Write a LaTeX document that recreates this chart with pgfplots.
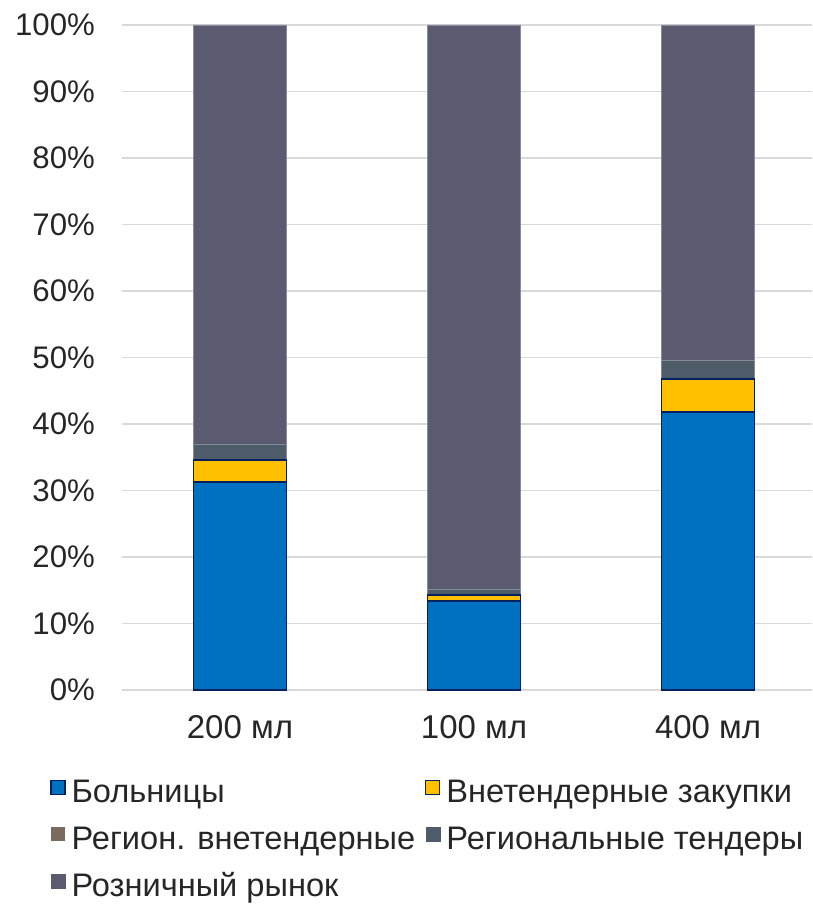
\documentclass[border=0pt]{standalone}
\usepackage{fontspec}
\setmainfont{Liberation Sans}
\usepackage{pgfplots}
\pgfplotsset{compat=1.18}

\definecolor{cBlue}{HTML}{0070C0}
\definecolor{cYellow}{HTML}{FFC000}
\definecolor{cBrown}{HTML}{7B6A5E}
\definecolor{cSlate}{HTML}{4E5B69}
\definecolor{cRetail}{HTML}{5A5A70}
\definecolor{cEdge}{HTML}{002060}
\definecolor{cGrid}{HTML}{D9D9D9}

\begin{document}
\begin{tikzpicture}
\begin{axis}[
    scale only axis,
    width=345pt, height=332.5pt,
    ybar stacked,
    bar width=46.5pt,
    xmin=-0.504, xmax=2.444,
    ymin=0, ymax=100,
    xtick={0,1,2},
    xticklabels={200 мл,100 мл,400 мл},
    ytick={0,10,...,100},
    yticklabels={0\%,10\%,20\%,30\%,40\%,50\%,60\%,70\%,80\%,90\%,100\%},
    ymajorgrids,
    grid style={cGrid, line width=0.8pt},
    axis line style={draw=none},
    major tick length=0pt,
    tick label style={text=black!85},
    yticklabel style={font=\fontsize{15.6}{18}\selectfont, xshift=-10pt},
    xticklabel style={font=\fontsize{16.5}{19}\selectfont, yshift=-9pt},
    legend columns=2,
    legend cell align=left,
    legend style={
        at={(rel axis cs:-0.1044,-0.134)}, anchor=north west,
        draw=none, fill=none, inner sep=0pt,
        font=\fontsize{16.3}{19}\selectfont,
        text=black!85,
        row sep=8.7pt,
        nodes={inner xsep=3pt, inner ysep=0pt, text height=11.5pt, text depth=3.3pt},
        /tikz/every even column/.append style={column sep=2pt},
    },
]
\addplot[fill=cBlue, draw=cEdge, line width=0.8pt,
    legend image code/.code={\draw[fill=cBlue, draw=cEdge, line width=0.6pt] (0pt,0pt) rectangle (7pt,7pt);}]
    coordinates {(0,31.3) (1,13.4) (2,41.8)};
\addlegendentry{Больницы}
\addplot[fill=cYellow, draw=cEdge, line width=0.8pt,
    legend image code/.code={\draw[fill=cYellow, draw=cEdge, line width=0.6pt] (0pt,0pt) rectangle (7pt,7pt);}]
    coordinates {(0,3.3) (1,0.9) (2,5.0)};
\addlegendentry{Внетендерные закупки}
\addplot[fill=cBrown, draw=none,
    legend image code/.code={\fill[cBrown] (0pt,0pt) rectangle (7pt,7pt);}]
    coordinates {(0,0) (1,0) (2,0)};
\addlegendentry{Регион. внетендерные}
\addplot[fill=cSlate, draw=cSlate!70!white, line width=0.3pt,
    legend image code/.code={\fill[cSlate] (0pt,0pt) rectangle (7pt,7pt);}]
    coordinates {(0,2.4) (1,0.9) (2,2.8)};
\addlegendentry{Региональные тендеры}
\addplot[fill=cRetail, draw=cRetail!70!white, line width=0.3pt,
    legend image code/.code={\fill[cRetail] (0pt,0pt) rectangle (7pt,7pt);}]
    coordinates {(0,63.0) (1,84.8) (2,50.4)};
\addlegendentry{Розничный рынок}
\coordinate (bbBL) at (rel axis cs:-0.1768,-0.3278);
\coordinate (bbTR) at (rel axis cs:1,1.0376);
\end{axis}
\pgfresetboundingbox
\path (bbBL) rectangle (bbTR);
\end{tikzpicture}
\end{document}
